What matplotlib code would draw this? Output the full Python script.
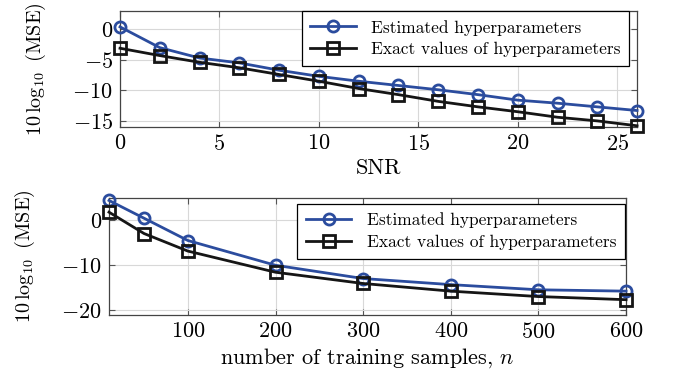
import matplotlib
matplotlib.use("Agg")
import matplotlib.pyplot as plt

plt.rcParams['font.family'] = 'cmr10'
plt.rcParams['mathtext.fontset'] = 'cm'
plt.rcParams['axes.formatter.use_mathtext'] = True

# top panel: MSE vs SNR
snr = [0, 2, 4, 6, 8, 10, 12, 14, 16, 18, 20, 22, 24, 26]
mse_est_snr = [0.4, -3.0, -4.7, -5.5, -6.7, -7.7, -8.5, -9.2, -9.9, -10.7, -11.6, -12.1, -12.7, -13.3]
mse_exact_snr = [-3.1, -4.3, -5.4, -6.3, -7.4, -8.5, -9.7, -10.7, -11.8, -12.7, -13.5, -14.4, -15.0, -15.8]

# bottom panel: MSE vs number of training samples
n_train = [10, 50, 100, 200, 300, 400, 500, 600]
mse_est_n = [4.45, 0.5, -4.45, -9.95, -12.9, -14.25, -15.4, -15.7]
mse_exact_n = [1.85, -2.9, -6.8, -11.5, -14.0, -15.7, -16.9, -17.6]

labels = ["Estimated hyperparameters", "Exact values of hyperparameters"]
blue = '#2b4c9e'
ylab = r'$10\,\log_{10}$ (MSE)'

fig = plt.figure(figsize=(6.75, 3.73), dpi=100)
ax1 = fig.add_axes([0.1778, 0.6595, 0.766, 0.311])
ax2 = fig.add_axes([0.1615, 0.1555, 0.766, 0.3137])


def style(ax):
    ax.grid(True, color='#d8d8d8', linewidth=0.8)
    ax.set_axisbelow(True)
    ax.tick_params(direction='in', top=True, right=True, labelsize=16,
                   length=4, color='#555555', pad=5)
    for s in ax.spines.values():
        s.set_color('#444444')
        s.set_linewidth(0.9)
    ax.yaxis.set_label_coords(-0.14, 0.5)


def draw(ax, x, est, exact):
    ax.plot(x, est, color=blue, lw=2.0, marker='o', ms=8, mfc='none', mew=2.0,
            label=labels[0], clip_on=False, zorder=3)
    ax.plot(x, exact, color='#151515', lw=2.0, marker='s', ms=8, mfc='none', mew=2.0,
            label=labels[1], clip_on=False, zorder=3)


def legend(ax, anchor):
    leg = ax.legend(loc='upper right', fontsize=12.5, fancybox=False, edgecolor='black',
                    framealpha=1, borderaxespad=0.0, handlelength=2.6, borderpad=0.5,
                    labelspacing=0.38, handletextpad=0.9, bbox_to_anchor=anchor)
    leg.get_frame().set_linewidth(0.9)
    leg.set_zorder(5)


draw(ax1, snr, mse_est_snr, mse_exact_snr)
ax1.set_xlim(0, 26)
ax1.set_ylim(-16, 3)
ax1.set_xticks([0, 5, 10, 15, 20, 25])
ax1.set_yticks([0, -5, -10, -15])
ax1.set_xlabel('SNR', fontsize=16, labelpad=3)
ax1.set_ylabel(ylab, fontsize=14.5)
style(ax1)
legend(ax1, (0.985, 1.0))

draw(ax2, n_train, mse_est_n, mse_exact_n)
ax2.set_xlim(10, 600)
ax2.set_ylim(-21, 5)
ax2.set_xticks([100, 200, 300, 400, 500, 600])
ax2.set_yticks([0, -10, -20])
ax2.set_xlabel(r'number of training samples, $n$', fontsize=16, labelpad=3)
ax2.set_ylabel(ylab, fontsize=14.5)
style(ax2)
legend(ax2, (0.998, 0.95))

fig.savefig('out.png', dpi=100)
